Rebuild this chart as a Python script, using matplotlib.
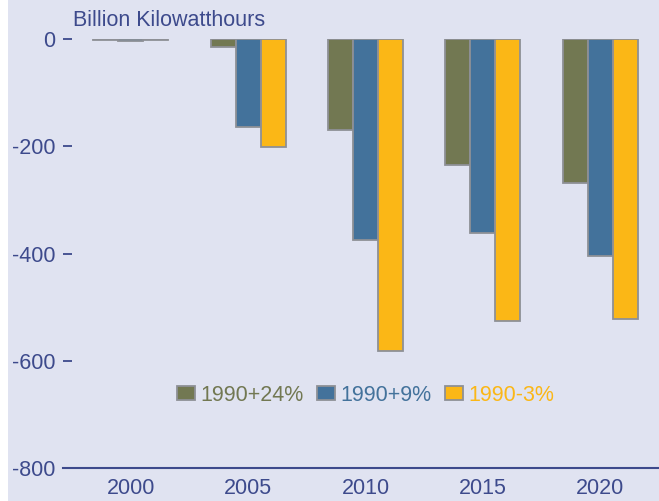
import numpy as np
import matplotlib.pyplot as plt
from matplotlib.patches import Rectangle

plt.rcParams['font.family'] = ['Liberation Sans', 'DejaVu Sans']
plt.rcParams['axes.unicode_minus'] = False

years = ['2000', '2005', '2010', '2015', '2020']
series = ['1990+24%', '1990+9%', '1990-3%']
plus24 = [-1, -15, -170, -235, -269]
plus9 = [-3, -164, -374, -362, -405]
minus3 = [-1, -202, -581, -525, -523]

colors = ['#727852', '#43729b', '#fbb716']
bg = '#e0e3f1'
navy = '#3d4a8c'
edge = '#8e9096'

W, H = 659, 501
fig = plt.figure(figsize=(W / 100, H / 100), dpi=100, facecolor=bg)
fig.patches.append(Rectangle((0, 0), 8 / W, 1, transform=fig.transFigure,
                             facecolor='white', edgecolor='none', zorder=-1))

# axes box in pixels: left 72, right 659, top 39, bottom 468
ax = fig.add_axes([72 / W, (H - 468) / H, (659 - 72) / W, (468 - 39) / H])
ax.set_facecolor(bg)

x = np.arange(len(years))
bw = 0.213
for i, (vals, c, lab) in enumerate(zip([plus24, plus9, minus3], colors, series)):
    ax.bar(x + (i - 1) * bw, vals, bw, color=c, edgecolor=edge,
           linewidth=1.3, label=lab)

ax.set_xlim(-0.5, 4.5)
ax.set_ylim(-800, 0)
ax.set_yticks([0, -200, -400, -600, -800])
ax.set_xticks(x)
ax.set_xticklabels(years)

for s in ['top', 'right', 'left', 'bottom']:
    ax.spines[s].set_visible(False)
ax.axhline(-800, xmin=-0.016, xmax=1, color=navy, linewidth=1.5, clip_on=False)

ax.tick_params(axis='y', length=6.5, width=1.3, color=navy, labelcolor=navy,
               labelsize=15.5, pad=5.5)
ax.tick_params(axis='x', length=0, labelcolor=navy, labelsize=15.5, pad=7.5)

fig.text(73 / W, 1 - 20 / H, 'Billion Kilowatthours', color=navy,
         fontsize=15.5, ha='left', va='center')

leg = ax.legend(loc='center', bbox_to_anchor=(0.5, 0.17), ncol=3,
                frameon=False, fontsize=15.5, handlelength=0.85,
                handleheight=0.65, handletextpad=0.25, columnspacing=0.6,
                labelcolor=colors, borderaxespad=0)

fig.savefig('out.png', dpi=100, facecolor=bg)
